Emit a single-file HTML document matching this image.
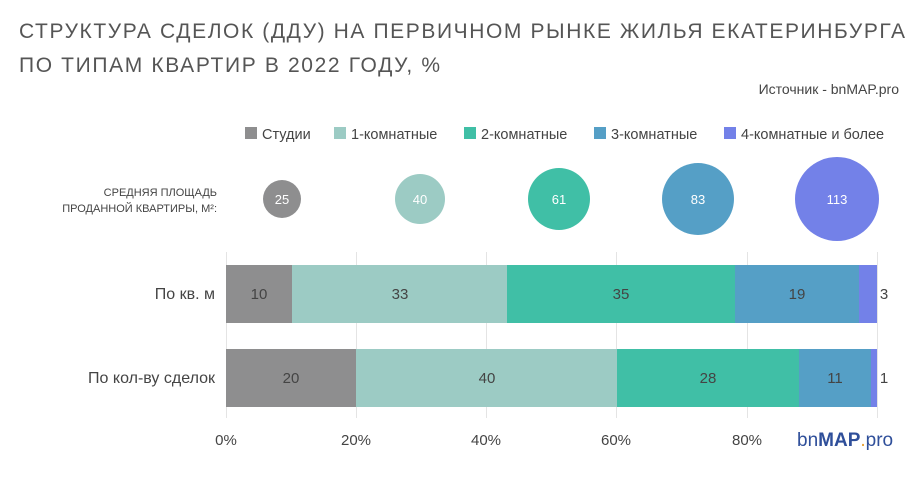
<!DOCTYPE html>
<html><head><meta charset="utf-8"><style>
body{margin:0;background:#fff;width:922px;height:475px;overflow:hidden;font-family:"Liberation Sans",sans-serif;}
</style></head><body>
<svg width="922" height="475" xmlns="http://www.w3.org/2000/svg" font-family="Liberation Sans, sans-serif">
<text x="19" y="38" font-size="21" fill="#555" textLength="886" lengthAdjust="spacing">СТРУКТУРА СДЕЛОК (ДДУ) НА ПЕРВИЧНОМ РЫНКЕ ЖИЛЬЯ ЕКАТЕРИНБУРГА</text>
<text x="19" y="72" font-size="21" fill="#555" textLength="421" lengthAdjust="spacing">ПО ТИПАМ КВАРТИР В 2022 ГОДУ, %</text>
<text x="899" y="94" font-size="14" fill="#444" text-anchor="end">Источник - bnMAP.pro</text>
<g font-size="14.5" fill="#444">
<rect x="245" y="127" width="12" height="12" fill="#8e8e8f"/><text x="262" y="139">Студии</text>
<rect x="334" y="127" width="12" height="12" fill="#9ccbc4"/><text x="351" y="139">1-комнатные</text>
<rect x="464" y="127" width="12" height="12" fill="#40bfa6"/><text x="481" y="139">2-комнатные</text>
<rect x="594" y="127" width="12" height="12" fill="#559fc6"/><text x="611" y="139">3-комнатные</text>
<rect x="724" y="127" width="12" height="12" fill="#7381e8"/><text x="741" y="139">4-комнатные и более</text>
</g>
<g font-size="11" fill="#444" text-anchor="end">
<text x="217" y="196">СРЕДНЯЯ ПЛОЩАДЬ</text>
<text x="217" y="212">ПРОДАННОЙ КВАРТИРЫ, М²:</text>
</g>
<g font-size="13" fill="#fff" text-anchor="middle">
<ellipse cx="282" cy="199" rx="19" ry="19" fill="#8e8e8f"/><text x="282" y="204">25</text>
<ellipse cx="420" cy="199" rx="25" ry="25" fill="#9ccbc4"/><text x="420" y="204">40</text>
<ellipse cx="559" cy="199" rx="31" ry="31" fill="#40bfa6"/><text x="559" y="204">61</text>
<ellipse cx="698" cy="199" rx="36" ry="36" fill="#559fc6"/><text x="698" y="204">83</text>
<ellipse cx="837" cy="199" rx="42" ry="42" fill="#7381e8"/><text x="837" y="204">113</text>
</g>
<g stroke="#e4e4e4" stroke-width="1">
<line x1="226.5" y1="252" x2="226.5" y2="418"/><line x1="356.5" y1="252" x2="356.5" y2="418"/>
<line x1="486.5" y1="252" x2="486.5" y2="418"/><line x1="616.5" y1="252" x2="616.5" y2="418"/>
<line x1="747.5" y1="252" x2="747.5" y2="418"/><line x1="877.5" y1="252" x2="877.5" y2="418"/>
</g>
<rect x="226" y="265" width="66" height="58" fill="#8e8e8f"/>
<rect x="292" y="265" width="215" height="58" fill="#9ccbc4"/>
<rect x="507" y="265" width="228" height="58" fill="#40bfa6"/>
<rect x="735" y="265" width="124" height="58" fill="#559fc6"/>
<rect x="859" y="265" width="18" height="58" fill="#7381e8"/>
<rect x="226" y="349" width="130" height="58" fill="#8e8e8f"/>
<rect x="356" y="349" width="261" height="58" fill="#9ccbc4"/>
<rect x="617" y="349" width="182" height="58" fill="#40bfa6"/>
<rect x="799" y="349" width="72" height="58" fill="#559fc6"/>
<rect x="871" y="349" width="6" height="58" fill="#7381e8"/>
<g font-size="15" fill="#444" text-anchor="middle">
<text x="259" y="299">10</text><text x="400" y="299">33</text><text x="621" y="299">35</text><text x="797" y="299">19</text><text x="884" y="299">3</text>
<text x="291" y="383">20</text><text x="487" y="383">40</text><text x="708" y="383">28</text><text x="835" y="383">11</text><text x="884" y="383">1</text>
</g>
<g font-size="16" fill="#444" text-anchor="end">
<text x="215" y="299">По кв. м</text>
<text x="215" y="383">По кол-ву сделок</text>
</g>
<g font-size="15" fill="#444" text-anchor="middle">
<text x="226" y="445">0%</text><text x="356" y="445">20%</text><text x="486" y="445">40%</text><text x="616" y="445">60%</text><text x="747" y="445">80%</text>
</g>
<text x="797" y="446" font-size="19" fill="#2f4f9a"><tspan>bn</tspan><tspan font-weight="bold">MAP</tspan><tspan fill="#e8a030">.</tspan><tspan>pro</tspan></text>
</svg>
</body></html>
